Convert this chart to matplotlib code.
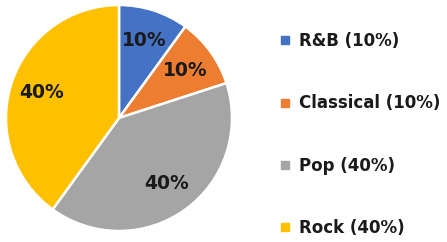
import matplotlib
matplotlib.use('Agg')
import matplotlib.pyplot as plt
from matplotlib.lines import Line2D

# Data
genres = ['R&B', 'Classical', 'Pop', 'Rock']
shares = [10, 10, 40, 40]
colors = ['#4472C4', '#ED7D31', '#A5A5A5', '#FFC000']

plt.rcParams['font.family'] = ['DejaVu Sans']

fig = plt.figure(figsize=(4.47, 2.42), dpi=100)
W, H = 447, 242
cx, cy, r = 119, 118, 113
ax = fig.add_axes([(cx - r) / W, (H - cy - r) / H, 2 * r / W, 2 * r / H])

wedges, texts, autotexts = ax.pie(
    shares, colors=colors, startangle=90, counterclock=False,
    autopct='%d%%', pctdistance=0.72,
    wedgeprops=dict(edgecolor='white', linewidth=1.8),
    textprops=dict(fontsize=13.5, fontweight='bold', color='#1a1a1a'))
ax.set_xlim(-1, 1)
ax.set_ylim(-1, 1)

handles = [Line2D([], [], marker='s', linestyle='', markersize=5.5,
                  markerfacecolor=c, markeredgecolor=c) for c in colors]
labels = ['%s (%d%%)' % (g, s) for g, s in zip(genres, shares)]
fig.legend(handles, labels, loc='upper left', bbox_to_anchor=(281 / W, 1 - 32 / H),
           frameon=False, handlelength=0.5, handletextpad=0.6,
           labelspacing=2.66, prop=dict(size=12, weight='bold'),
           labelcolor='#1a1a1a', borderaxespad=0, borderpad=0)

fig.savefig('out.png', dpi=100)
